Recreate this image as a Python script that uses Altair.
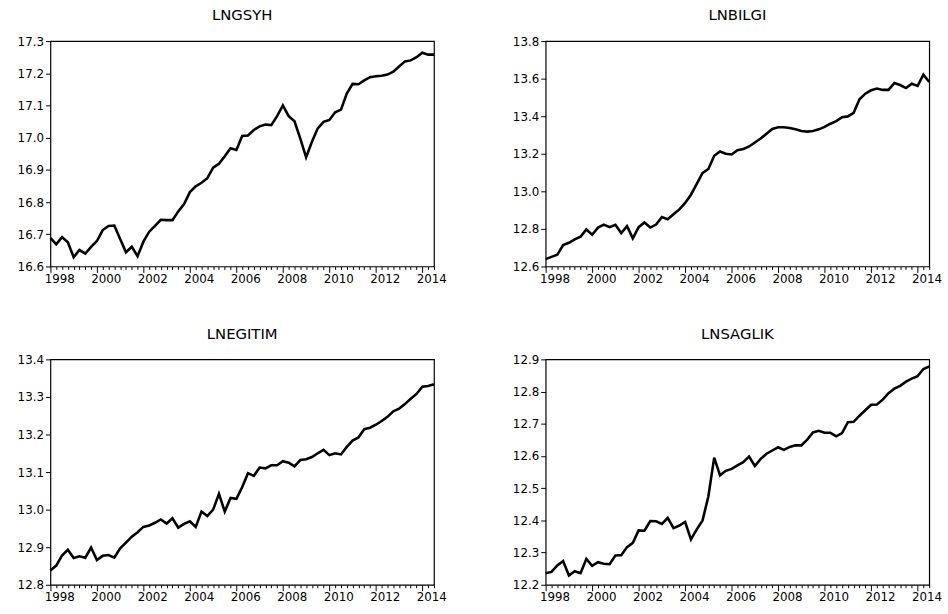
import altair as alt
import pandas as pd

# Quarterly observations, 1998Q1 .. 2014Q3
years = list(range(1998, 2015))
quarter_offsets = [0.0, 0.25, 0.5, 0.75]
periods = [y + q for y in years for q in quarter_offsets][:67]

lngsyh = [
    16.689, 16.669, 16.691, 16.675, 16.629, 16.651, 16.640, 16.661, 16.679, 16.713,
    16.726, 16.727, 16.685, 16.644, 16.661, 16.632, 16.677, 16.708, 16.726, 16.745,
    16.744, 16.744, 16.771, 16.794, 16.831, 16.849, 16.860, 16.874, 16.907, 16.919,
    16.942, 16.967, 16.962, 17.005, 17.007, 17.024, 17.035, 17.041, 17.039, 17.067,
    17.100, 17.067, 17.051, 16.997, 16.939, 16.987, 17.029, 17.049, 17.055, 17.079,
    17.087, 17.137, 17.167, 17.166, 17.178, 17.188, 17.191, 17.192, 17.196, 17.205,
    17.221, 17.237, 17.240, 17.250, 17.264, 17.258, 17.258,
]
lnbilgi = [
    12.639, 12.651, 12.662, 12.714, 12.726, 12.744, 12.758, 12.797, 12.769, 12.807,
    12.823, 12.809, 12.822, 12.778, 12.815, 12.750, 12.809, 12.834, 12.807, 12.823,
    12.863, 12.851, 12.878, 12.904, 12.938, 12.982, 13.040, 13.098, 13.119, 13.189,
    13.212, 13.200, 13.196, 13.219, 13.225, 13.239, 13.260, 13.281, 13.307, 13.332,
    13.341, 13.341, 13.337, 13.330, 13.321, 13.318, 13.321, 13.330, 13.343, 13.360,
    13.374, 13.395, 13.399, 13.418, 13.490, 13.520, 13.538, 13.547, 13.540, 13.540,
    13.577, 13.566, 13.550, 13.573, 13.561, 13.621, 13.582,
]
lnegitim = [
    12.838, 12.851, 12.878, 12.893, 12.871, 12.876, 12.872, 12.899, 12.866, 12.877,
    12.879, 12.872, 12.897, 12.912, 12.928, 12.940, 12.954, 12.958, 12.965, 12.974,
    12.963, 12.977, 12.952, 12.962, 12.969, 12.954, 12.995, 12.983, 13.000, 13.042,
    12.995, 13.031, 13.029, 13.060, 13.097, 13.090, 13.112, 13.110, 13.118, 13.118,
    13.129, 13.125, 13.115, 13.132, 13.134, 13.140, 13.150, 13.159, 13.145, 13.150,
    13.147, 13.167, 13.184, 13.192, 13.214, 13.218, 13.226, 13.236, 13.247, 13.262,
    13.269, 13.281, 13.295, 13.308, 13.327, 13.329, 13.334,
]
lnsaglik = [
    12.236, 12.240, 12.260, 12.274, 12.229, 12.242, 12.236, 12.280, 12.259, 12.270,
    12.265, 12.264, 12.291, 12.292, 12.317, 12.330, 12.369, 12.368, 12.398, 12.397,
    12.389, 12.408, 12.376, 12.384, 12.395, 12.341, 12.372, 12.400, 12.475, 12.595,
    12.540, 12.554, 12.560, 12.571, 12.581, 12.598, 12.569, 12.591, 12.607, 12.617,
    12.627, 12.619, 12.628, 12.633, 12.633, 12.651, 12.673, 12.678, 12.672, 12.672,
    12.661, 12.671, 12.705, 12.706, 12.725, 12.742, 12.759, 12.760, 12.775, 12.795,
    12.809, 12.818, 12.831, 12.840, 12.848, 12.870, 12.878,
]

panels = [
    ("LNGSYH", lngsyh, [16.6, 16.7, 16.8, 16.9, 17.0, 17.1, 17.2, 17.3]),
    ("LNBILGI", lnbilgi, [12.6, 12.8, 13.0, 13.2, 13.4, 13.6, 13.8]),
    ("LNEGITIM", lnegitim, [12.8, 12.9, 13.0, 13.1, 13.2, 13.3, 13.4]),
    ("LNSAGLIK", lnsaglik, [12.2, 12.3, 12.4, 12.5, 12.6, 12.7, 12.8, 12.9]),
]

FONT = "DejaVu Sans"


def panel(name, values, yticks):
    df = pd.DataFrame({"period": periods, "value": values})
    x_axis = alt.Axis(
        values=periods,
        labelExpr="datum.value % 2 === 0 ? format(datum.value, 'd') : ''",
        labelOffset=9,
        labelFlush=False,
        labelOverlap=False,
        labelPadding=1,
        tickSize={"condition": {"test": "datum.value % 2 === 0", "value": 6}, "value": 3},
        title=None,
        grid=False,
        domain=False,
    )
    y_axis = alt.Axis(
        values=yticks,
        format=".1f",
        tickSize=5,
        labelPadding=2,
        title=None,
        grid=False,
        domain=False,
    )
    return (
        alt.Chart(df, title=alt.Title(name, fontSize=15, font=FONT, fontWeight="normal",
                                      color="black", offset=12))
        .mark_line(color="black", strokeWidth=2.6)
        .encode(
            x=alt.X("period:Q", scale=alt.Scale(domain=[1998, 2014.5], nice=False, zero=False),
                    axis=x_axis),
            y=alt.Y("value:Q", scale=alt.Scale(domain=[yticks[0], yticks[-1]], nice=False,
                                               zero=False), axis=y_axis),
        )
        .properties(width=388, height=228)
    )


chart = (
    alt.concat(*[panel(n, v, t) for n, v, t in panels], columns=2,
               spacing={"row": 94, "column": 113}, bounds="flush")
    .properties(padding={"left": 16, "top": 4, "right": 5, "bottom": 5}, background="white")
    .configure_view(stroke="black", strokeWidth=1.2)
    .configure_axis(labelFont=FONT, labelFontSize=12, labelColor="black",
                    tickColor="black", tickWidth=1)
)

chart.save("out.html", embed_options={"renderer": "svg", "actions": False})
